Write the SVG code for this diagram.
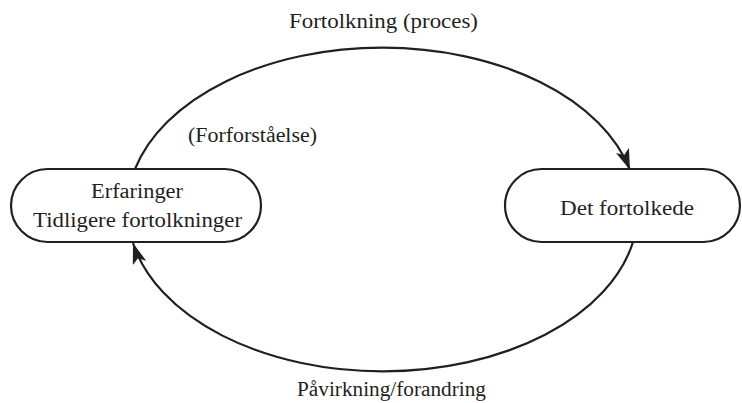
<svg xmlns="http://www.w3.org/2000/svg" width="742" height="403" viewBox="0 0 742 403">
<style>
.node{fill:#fff;stroke:#231f20;stroke-width:2.2}
.lbl{font-family:"Liberation Serif","Times New Roman",serif;font-size:20px;fill:#231f20;text-anchor:middle}
.conn{fill:none;stroke:#231f20;stroke-width:2.2}
</style>
<defs>
<marker id="ah" markerUnits="userSpaceOnUse" markerWidth="22" markerHeight="14" refX="21" refY="7" orient="auto" viewBox="0 0 22 14">
<path d="M0,0 L21,7 L0,14 L5,7 z" fill="#231f20"/>
</marker>
</defs>
<rect width="742" height="403" fill="#fff"/>
<g id="connectors">
<path class="conn" d="M135,169 A255,160.5 0 0 1 630,170" marker-end="url(#ah)"/>
<path class="conn" d="M633,242 A255,160.5 0 0 1 133,243" marker-end="url(#ah)"/>
</g>
<g id="node-erfaringer">
<rect class="node" x="11" y="169" width="250" height="73" rx="36.5"/>
<text class="lbl" x="137" y="198" textLength="92" lengthAdjust="spacingAndGlyphs">Erfaringer</text>
<text class="lbl" x="137.5" y="227" textLength="209" lengthAdjust="spacingAndGlyphs">Tidligere fortolkninger</text>
</g>
<g id="node-fortolkede">
<rect class="node" x="505" y="169" width="235" height="73" rx="36.5"/>
<text class="lbl" x="627" y="215" textLength="134" lengthAdjust="spacingAndGlyphs">Det fortolkede</text>
</g>
<g id="labels">
<text class="lbl" x="383.5" y="28" textLength="189" lengthAdjust="spacingAndGlyphs">Fortolkning (proces)</text>
<text class="lbl" x="252.5" y="142" textLength="129" lengthAdjust="spacingAndGlyphs">(Forforståelse)</text>
<text class="lbl" x="391.5" y="396" textLength="189" lengthAdjust="spacingAndGlyphs">Påvirkning/forandring</text>
</g>
</svg>
